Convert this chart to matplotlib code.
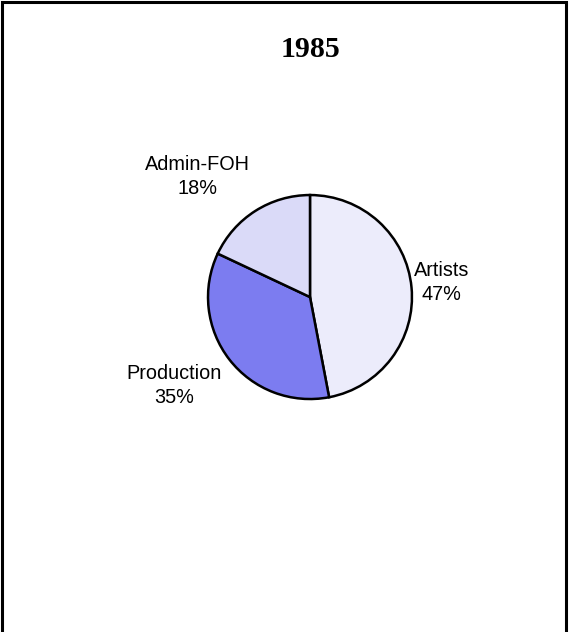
import matplotlib.pyplot as plt
from matplotlib.patches import Rectangle

# budget split, 1985
title = "1985"
categories = ["Artists", "Production", "Admin-FOH"]
shares = [47, 35, 18]

colors = ["#ECECFB", "#7C7CF0", "#DADAF8"]
# label anchor points in pie units (radius = 1)
label_xy = [(1.29, 0.14), (-1.33, -0.87), (-1.10, 1.18)]

fig = plt.figure(figsize=(5.69, 6.32), dpi=100)

# outer frame (bottom edge runs off the page)
fig.patches.append(Rectangle((0.0035, -0.05), 0.991, 1.0468, transform=fig.transFigure,
                             fill=False, edgecolor="black", linewidth=2.2))

fig.text(0.545, 0.922, title, ha="center", va="center", fontsize=21.5,
         fontweight="bold", family="Liberation Serif")

ax = fig.add_axes([0.3638, 0.367, 0.362, 0.326])
wedges, _ = ax.pie(shares, colors=colors, startangle=90, counterclock=False,
                   radius=1.0,
                   wedgeprops=dict(edgecolor="black", linewidth=1.8))
ax.set_xlim(-1.01, 1.01)
ax.set_ylim(-1.01, 1.01)
ax.set_aspect("auto")
ax.axis("off")

for name, val, (x, y) in zip(categories, shares, label_xy):
    ax.text(x, y, f"{name}\n{val}%", ha="center", va="center", fontsize=14.3,
            family="Liberation Sans", linespacing=1.35, clip_on=False)

fig.savefig("out.png", dpi=100)
